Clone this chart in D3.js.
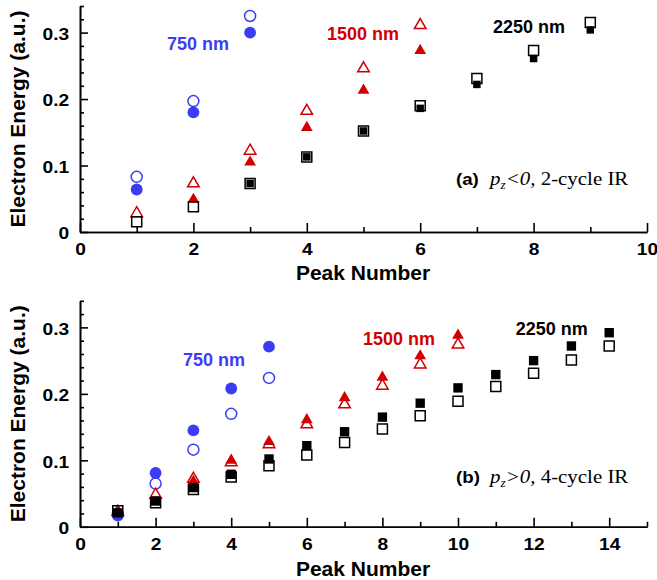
<!DOCTYPE html>
<html>
<head>
<meta charset="utf-8">
<script src="https://cdn.jsdelivr.net/npm/d3@7"></script>
<style>
  body { margin: 0; background: #fff; }
  text { font-family: "Liberation Sans", Arial, Helvetica, sans-serif; }
</style>
</head>
<body>
<div id="chart"></div>
<script>
// ---- data, panel (a): p_z<0, 2-cycle IR
const peaksA750 = [1, 2, 3];
const a750Open = [0.083, 0.197, 0.325];
const a750Filled = [0.064, 0.180, 0.300];
const peaksA1500 = [1, 2, 3, 4, 5, 6];
const a1500Open = [0.028, 0.073, 0.122, 0.182, 0.246, 0.311];
const peaksA1500F = [2, 3, 4, 5, 6];
const a1500Filled = [0.049, 0.105, 0.157, 0.213, 0.273];
const peaksA2250 = [1, 2, 3, 4, 5, 6, 7, 8, 9];
const a2250Open = [0.0155, 0.038, 0.073, 0.113, 0.152, 0.190, 0.231, 0.273, 0.315];
const peaksA2250F = [3, 4, 5, 6, 7, 8, 9];
const a2250Filled = [0.073, 0.113, 0.152, 0.186, 0.222, 0.261, 0.304];

// ---- data, panel (b): p_z>0, 4-cycle IR
const peaksB750 = [1, 2, 3, 4, 5];
const b750Open = [0.019, 0.065, 0.116, 0.170, 0.224];
const b750Filled = [0.017, 0.081, 0.145, 0.208, 0.271];
const peaksB1500 = [1, 2, 3, 4, 5, 6, 7, 8, 9, 10];
const b1500Open = [0.022, 0.048, 0.072, 0.097, 0.124, 0.154, 0.184, 0.212, 0.244, 0.274];
const b1500Filled = [0.024, 0.037, 0.068, 0.100, 0.128, 0.161, 0.194, 0.225, 0.257, 0.288];
const peaksB2250 = [1, 2, 3, 4, 5, 6, 7, 8, 9, 10, 11, 12, 13, 14];
const b2250Open = [0.024, 0.036, 0.056, 0.075, 0.092, 0.108, 0.127, 0.147, 0.167, 0.189, 0.211, 0.231, 0.251, 0.272];
const b2250Filled = [0.021, 0.039, 0.059, 0.079, 0.102, 0.122, 0.143, 0.165, 0.186, 0.209, 0.229, 0.250, 0.272, 0.292];

// ---- ticks
const xTicksA = [0, 2, 4, 6, 8, 10];
const xMinorA = [1, 3, 5, 7, 9];
const xTicksB = [0, 2, 4, 6, 8, 10, 12, 14];
const xMinorB = [1, 3, 5, 7, 9, 11, 13, 15];
const yTicks = [0, 0.1, 0.2, 0.3];
const yMinor = [0.02, 0.04, 0.06, 0.08, 0.12, 0.14, 0.16, 0.18, 0.22, 0.24, 0.26, 0.28, 0.32, 0.34];

const width = 657, height = 580;
const blue = "#3c3cf5", red = "#d10000", black = "#000";
const serif = "'Liberation Serif', 'Times New Roman', serif";

const svg = d3.select("#chart").append("svg")
    .attr("width", width)
    .attr("height", height);

function zip(xs, ys) { return xs.map((x, i) => ({ x: x, y: ys[i] })); }

function drawPanel(opt) {
    const x = d3.scaleLinear().domain(opt.xDomain).range([80, 647]);
    const y = d3.scaleLinear().domain([0, 0.34]).range([opt.y0, opt.y0 - 226]);
    const g = svg.append("g");

    // minor ticks first, then major axis with labels
    g.append("g").attr("transform", `translate(0,${opt.y0})`)
        .call(d3.axisBottom(x).tickValues(opt.xMinor).tickSize(-5).tickSizeOuter(0).tickFormat(""));
    g.append("g").attr("transform", "translate(80,0)")
        .call(d3.axisLeft(y).tickValues(yMinor).tickSize(-4).tickSizeOuter(0).tickFormat(""));

    const xa = g.append("g").attr("transform", `translate(0,${opt.y0})`)
        .call(d3.axisBottom(x).tickValues(opt.xTicks).tickSize(-9).tickSizeOuter(0).tickPadding(12)
            .tickFormat(d3.format("d")));
    const ya = g.append("g").attr("transform", "translate(80,0)")
        .call(d3.axisLeft(y).tickValues(yTicks).tickSize(-8).tickSizeOuter(0).tickPadding(9)
            .tickFormat(d => d === 0 ? "0" : d.toFixed(1)));

    g.selectAll(".domain, .tick line").attr("stroke", "#000").attr("stroke-width", 1.6);
    [xa, ya].forEach(a => a.selectAll("text")
        .attr("font-weight", "bold")
        .attr("font-size", 16)
        .attr("fill", "#000")
        .attr("transform", "scale(1.2,1)"));
    ya.selectAll("text").attr("dy", "0.42em");

    // axis titles
    g.append("text")
        .attr("x", 363).attr("y", opt.y0 + opt.titleGap)
        .attr("text-anchor", "middle")
        .attr("font-weight", "bold").attr("font-size", 21)
        .text("Peak Number");
    g.append("text")
        .attr("transform", `translate(25,${opt.y0 - 113}) rotate(-90)`)
        .attr("text-anchor", "middle")
        .attr("font-weight", "bold").attr("font-size", 21)
        .text("Electron Energy (a.u.)");

    // markers
    const sym = (type, size) => d3.symbol().type(type).size(size)();
    opt.series.forEach(s => {
        g.append("g").selectAll("path")
            .data(zip(s.x, s.y))
            .join("path")
            .attr("transform", d => `translate(${x(d.x)},${y(d.y)})`)
            .attr("d", sym(s.shape, s.size))
            .attr("fill", s.filled ? s.color : "none")
            .attr("stroke", s.filled ? "none" : s.color)
            .attr("stroke-width", 1.5);
    });

    // series labels
    opt.labels.forEach(l => {
        g.append("text")
            .attr("x", x(l.x)).attr("y", y(l.y))
            .attr("font-weight", "bold").attr("font-size", 18)
            .attr("fill", l.color)
            .text(l.text);
    });

    // panel annotation: bold tag, then "p_z<0, 2-cycle IR" in serif
    const an = g.append("g")
        .attr("transform", `translate(456,${opt.y0 - opt.noteGap}) scale(1.1,1)`);
    an.append("text").attr("x", 0).attr("font-weight", "bold").attr("font-size", 17).text(opt.tag);
    const t = an.append("text").attr("x", 31)
        .style("font-family", serif).attr("font-size", 19);
    t.append("tspan").attr("font-style", "italic").text("p");
    t.append("tspan").attr("font-style", "italic").attr("font-size", 12).attr("dy", 4).text("z");
    t.append("tspan").attr("font-style", "italic").attr("dy", -4).text(opt.cond);
    t.append("tspan").text(" " + opt.desc);
}

drawPanel({
    xDomain: [0, 10], xTicks: xTicksA, xMinor: xMinorA, y0: 232,
    titleGap: 48, noteGap: 47,
    tag: "(a)", cond: "<0,", desc: "2-cycle IR",
    series: [
        { x: peaksA750, y: a750Open, shape: d3.symbolCircle, size: 95, filled: false, color: blue },
        { x: peaksA750, y: a750Filled, shape: d3.symbolCircle, size: 110, filled: true, color: blue },
        { x: peaksA1500, y: a1500Open, shape: d3.symbolTriangle, size: 58, filled: false, color: red },
        { x: peaksA1500F, y: a1500Filled, shape: d3.symbolTriangle, size: 60, filled: true, color: red },
        { x: peaksA2250, y: a2250Open, shape: d3.symbolSquare, size: 100, filled: false, color: black },
        { x: peaksA2250F, y: a2250Filled, shape: d3.symbolSquare, size: 56, filled: true, color: black }
    ],
    labels: [
        { text: "750 nm", x: 1.534, y: 0.2737, color: blue },
        { text: "1500 nm", x: 4.356, y: 0.2887, color: red },
        { text: "2250 nm", x: 7.284, y: 0.2992, color: black }
    ]
});

drawPanel({
    xDomain: [0, 15], xTicks: xTicksB, xMinor: xMinorB, y0: 526.8,
    titleGap: 49.5, noteGap: 44,
    tag: "(b)", cond: ">0,", desc: "4-cycle IR",
    series: [
        { x: peaksB750, y: b750Open, shape: d3.symbolCircle, size: 95, filled: false, color: blue },
        { x: peaksB750, y: b750Filled, shape: d3.symbolCircle, size: 110, filled: true, color: blue },
        { x: peaksB1500, y: b1500Open, shape: d3.symbolTriangle, size: 58, filled: false, color: red },
        { x: peaksB1500, y: b1500Filled, shape: d3.symbolTriangle, size: 60, filled: true, color: red },
        { x: peaksB2250, y: b2250Open, shape: d3.symbolSquare, size: 100, filled: false, color: black },
        { x: peaksB2250, y: b2250Filled, shape: d3.symbolSquare, size: 88, filled: true, color: black }
    ],
    labels: [
        { text: "750 nm", x: 2.725, y: 0.2418, color: blue },
        { text: "1500 nm", x: 7.487, y: 0.2734, color: red },
        { text: "2250 nm", x: 11.53, y: 0.2884, color: black }
    ]
});
</script>
</body>
</html>
